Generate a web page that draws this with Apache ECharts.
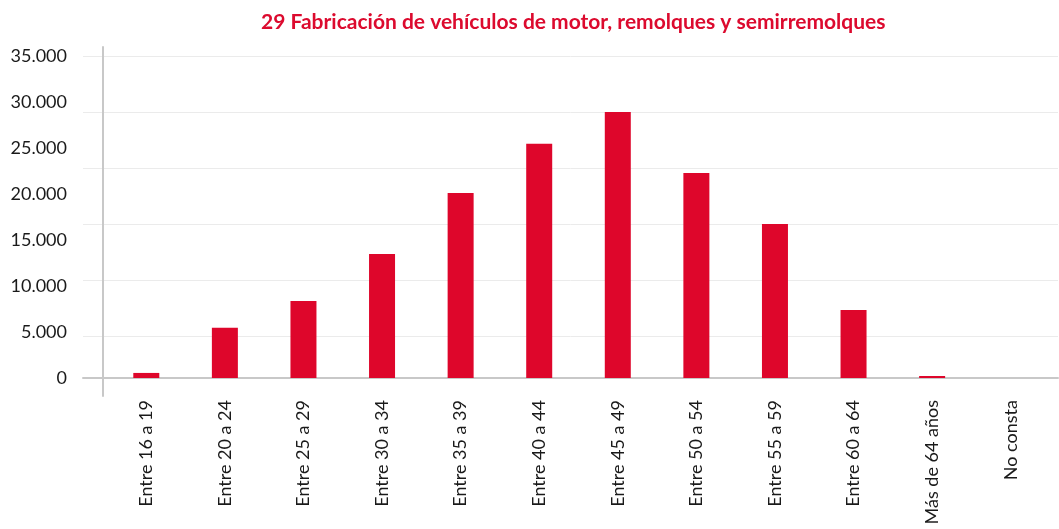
<!DOCTYPE html>
<html>
<head>
<meta charset="utf-8">
<script src="https://cdn.jsdelivr.net/npm/echarts@6/dist/echarts.min.js"></script>
<style>
  html, body { margin: 0; padding: 0; background: #fff; }
  #main { width: 1059px; height: 529px; }
</style>
</head>
<body>
<div id="main"></div>
<script>
var titleText = '29 Fabricación de vehículos de motor, remolques y semirremolques';

var categories = ['Entre 16 a 19', 'Entre 20 a 24', 'Entre 25 a 29', 'Entre 30 a 34',
  'Entre 35 a 39', 'Entre 40 a 44', 'Entre 45 a 49', 'Entre 50 a 54',
  'Entre 55 a 59', 'Entre 60 a 64', 'Más de 64 años', 'No consta'];

var trabajadores = [550, 5450, 8380, 13480, 20100, 25450, 28900, 22280, 16740, 7390, 220, 0];

var yMin = 0;
var yMax = 35000;
var yStep = 5000;

var chart = echarts.init(document.getElementById('main'), null, { renderer: 'canvas' });

function fmtMiles(v) {
  return String(v).replace(/\B(?=(\d{3})+(?!\d))/g, '.');
}

var option = {
  backgroundColor: '#ffffff',
  animation: false,
  title: {
    text: titleText,
    left: 256,
    top: 7,
    textStyle: {
      fontFamily: 'Lato',
      fontWeight: 'bold',
      fontSize: 21,
      color: '#dc0a2e'
    }
  },
  grid: [
    // bars
    { left: 107, right: 9, top: 56, bottom: 151 },
    // gridlines + x axis line (overhang to the left)
    { left: 83, right: 1, top: 56, bottom: 151 },
    // y axis line (overhang up and down)
    { left: 103, right: 1, top: 47, bottom: 133 }
  ],
  xAxis: [
    {
      gridIndex: 0,
      type: 'category',
      data: categories,
      axisLine: { show: false },
      axisTick: { show: false },
      axisLabel: {
        rotate: 90,
        interval: 0,
        margin: 22,
        fontFamily: 'Lato',
        fontSize: 18,
        color: '#1a1a1a'
      }
    },
    {
      gridIndex: 1,
      type: 'value',
      min: 0, max: 1,
      position: 'bottom',
      axisLine: { show: true, onZero: false, lineStyle: { color: '#c8c8c8', width: 2 } },
      axisTick: { show: false },
      axisLabel: { show: false },
      splitLine: { show: false }
    },
    {
      gridIndex: 2,
      type: 'value',
      min: 0, max: 1,
      show: false
    }
  ],
  yAxis: [
    {
      gridIndex: 0,
      type: 'value',
      min: yMin,
      max: yMax,
      interval: yStep,
      axisLine: { show: false },
      axisTick: { show: false },
      splitLine: { show: false },
      axisLabel: {
        margin: 40,
        fontFamily: 'Lato',
        fontSize: 18,
        color: '#1a1a1a',
        formatter: fmtMiles
      }
    },
    {
      gridIndex: 1,
      type: 'value',
      inverse: true,
      min: 0,
      max: 5.75,
      interval: 1,
      axisLine: { show: false },
      axisTick: { show: false },
      axisLabel: { show: false },
      splitLine: { show: true, lineStyle: { color: '#ebebeb', width: 1 } }
    },
    {
      gridIndex: 2,
      type: 'value',
      min: 0, max: 1,
      axisLine: { show: true, lineStyle: { color: '#c8c8c8', width: 2 } },
      axisTick: { show: false },
      axisLabel: { show: false },
      splitLine: { show: false }
    }
  ],
  series: [
    {
      name: 'Trabajadores',
      type: 'bar',
      xAxisIndex: 0,
      yAxisIndex: 0,
      data: trabajadores,
      barWidth: 26,
      itemStyle: { color: '#de062b' }
    }
  ]
};

chart.setOption(option);
</script>
</body>
</html>
